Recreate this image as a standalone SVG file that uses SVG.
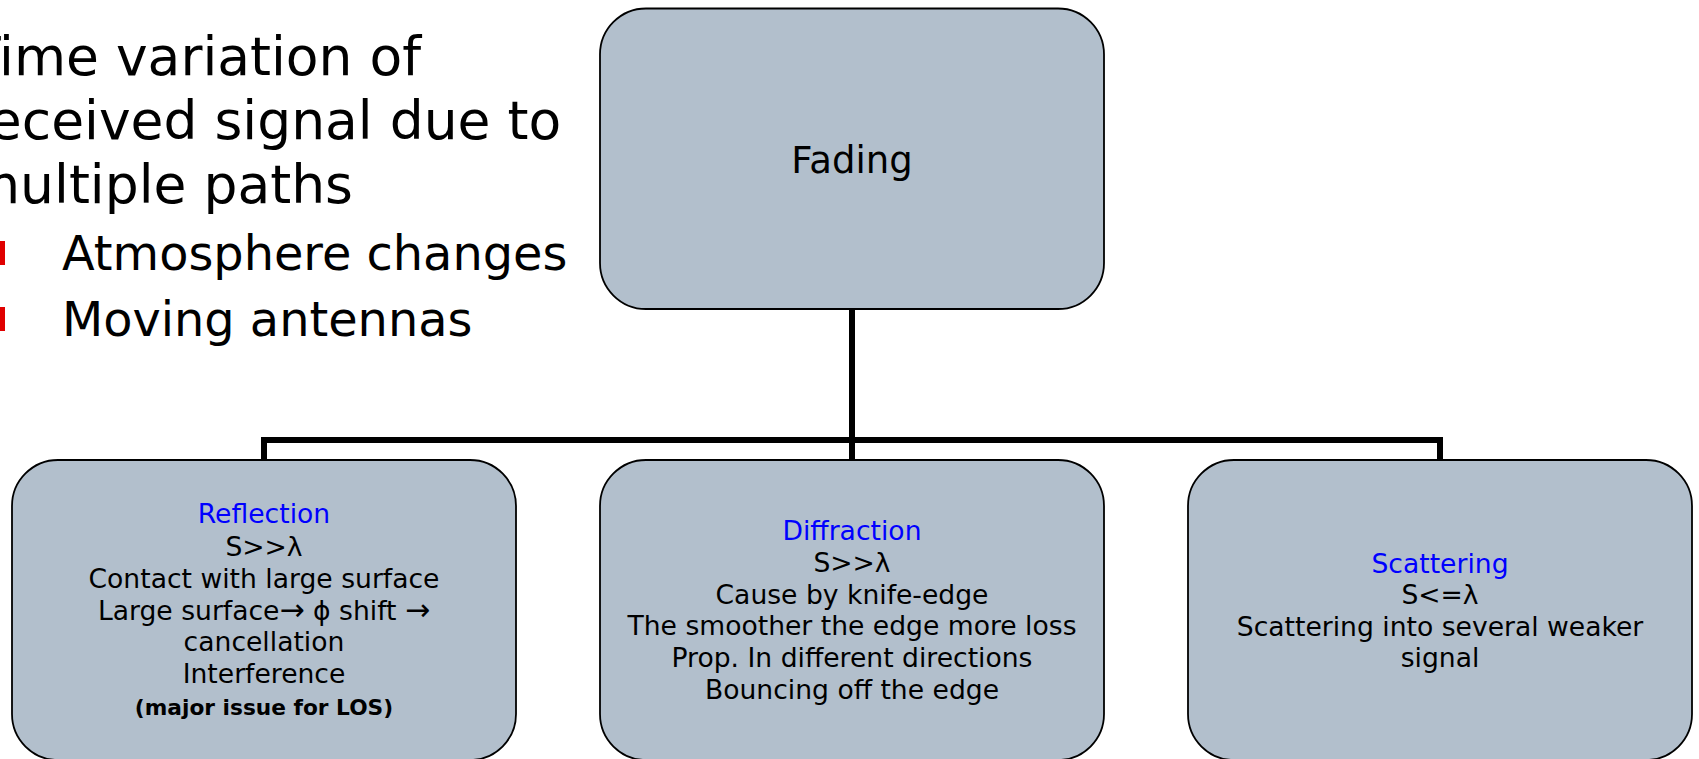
<svg xmlns="http://www.w3.org/2000/svg" width="1699" height="759" viewBox="0 0 1699 759">
<style>
.box{fill:#B2BFCC;stroke:#000;stroke-width:1.8}
.t{font-family:"DejaVu Sans",Verdana,sans-serif;font-size:26.6px;fill:#000;text-anchor:middle}
.h{fill:#0000FF}
.b{font-weight:bold;font-size:21.7px}
.big{font-family:"DejaVu Sans",Verdana,sans-serif;font-size:53.5px;fill:#000}
.mid{font-family:"DejaVu Sans",Verdana,sans-serif;font-size:47.8px;fill:#000}
.conn{stroke:#000;stroke-width:6;fill:none}
</style>
<rect width="1699" height="759" fill="#fff"/>
<g id="intro">
<text class="big" x="-32" y="75">Time variation of</text>
<text class="big" x="-32" y="139">received signal due to</text>
<text class="big" x="-32" y="203">multiple paths</text>
<rect x="-5" y="241" width="10" height="24" fill="#E00000"/>
<rect x="-5" y="307" width="10" height="24" fill="#E00000"/>
<text class="mid" x="62" y="270">Atmosphere changes</text>
<text class="mid" x="62" y="336">Moving antennas</text>
</g>
<g id="connectors">
<line class="conn" x1="852" y1="309" x2="852" y2="460"/>
<polyline class="conn" points="264,460 264,440 1440,440 1440,460"/>
</g>
<g id="fading">
<rect class="box" x="600" y="8.5" width="504" height="300.5" rx="46" ry="46"/>
<text class="t" x="852" y="173" style="font-size:37px">Fading</text>
</g>
<g id="reflection">
<rect class="box" x="12" y="460" width="504" height="300" rx="46" ry="46"/>
<text class="t h" x="264" y="523">Reflection</text>
<text class="t" x="264" y="556">S&gt;&gt;λ</text>
<text class="t" x="264" y="588">Contact with large surface</text>
<text class="t" x="264" y="620">Large surface<tspan style="font-size:30px">→</tspan> ϕ shift <tspan style="font-size:30px">→</tspan></text>
<text class="t" x="264" y="651">cancellation</text>
<text class="t" x="264" y="683">Interference</text>
<text class="t b" x="264" y="715">(major issue for LOS)</text>
</g>
<g id="diffraction">
<rect class="box" x="600" y="460" width="504" height="300" rx="46" ry="46"/>
<text class="t h" x="852" y="540">Diffraction</text>
<text class="t" x="852" y="572">S&gt;&gt;λ</text>
<text class="t" x="852" y="604">Cause by knife-edge</text>
<text class="t" x="852" y="635">The smoother the edge more loss</text>
<text class="t" x="852" y="667">Prop. In different directions</text>
<text class="t" x="852" y="699">Bouncing off the edge</text>
</g>
<g id="scattering">
<rect class="box" x="1188" y="460" width="504" height="300" rx="46" ry="46"/>
<text class="t h" x="1440" y="573">Scattering</text>
<text class="t" x="1440" y="604">S&lt;=λ</text>
<text class="t" x="1440" y="636">Scattering into several weaker</text>
<text class="t" x="1440" y="667">signal</text>
</g>
</svg>
